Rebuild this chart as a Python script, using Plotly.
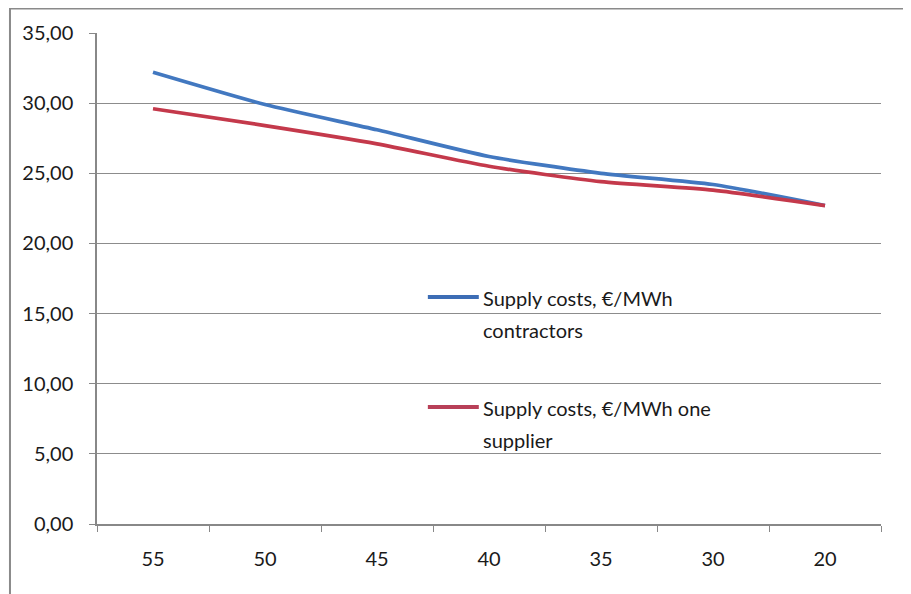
import plotly.graph_objects as go

categories = ["55", "50", "45", "40", "35", "30", "20"]
contractors = [32.2, 29.9, 28.1, 26.2, 25.0, 24.2, 22.7]
one_supplier = [29.6, 28.4, 27.1, 25.5, 24.4, 23.8, 22.7]
y_ticks = [0, 5, 10, 15, 20, 25, 30, 35]
legend_lines_1 = ["Supply costs, €/MWh", "contractors"]
legend_lines_2 = ["Supply costs, €/MWh one", "supplier"]

FONT = "Lato"
BLUE = "#4278c0"
RED = "#c4394b"

fig = go.Figure()
fig.add_trace(go.Scatter(
    x=categories, y=contractors, mode="lines", name=" ".join(legend_lines_1),
    line=dict(color=BLUE, width=3.7, shape="spline", smoothing=0.6),
))
fig.add_trace(go.Scatter(
    x=categories, y=one_supplier, mode="lines", name=" ".join(legend_lines_2),
    line=dict(color=RED, width=3.7, shape="spline", smoothing=0.6),
))

# manual legend (text lines + line samples), paper coordinates
annotations = []
text_x = 0.490
for lines, ys in ((legend_lines_1, (0.4603, 0.395)), (legend_lines_2, (0.2363, 0.171))):
    for t, yy in zip(lines, ys):
        annotations.append(dict(
            text=t, x=text_x, y=yy, xref="paper", yref="paper",
            xanchor="left", yanchor="middle", showarrow=False,
            font=dict(family=FONT, size=20, color="#1a1a1a"),
        ))

shapes = [
    dict(type="line", xref="paper", yref="paper", x0=0.422, x1=0.487,
         y0=0.4623, y1=0.4623, line=dict(color="#3d6db5", width=4)),
    dict(type="line", xref="paper", yref="paper", x0=0.422, x1=0.487,
         y0=0.2383, y1=0.2383, line=dict(color="#b84058", width=4)),
    dict(type="rect", xref="paper", yref="paper",
         x0=-0.111, x1=1.08, y0=-0.2, y1=1.0497,
         line=dict(color="#8a8a8a", width=2), fillcolor="rgba(0,0,0,0)"),
]

fig.update_layout(
    width=911, height=594,
    margin=dict(l=89, r=38, t=25, b=78),
    paper_bgcolor="white", plot_bgcolor="white",
    separators=",.",
    font=dict(family=FONT, size=20, color="#1a1a1a"),
    showlegend=False,
    annotations=annotations,
    shapes=shapes,
    xaxis=dict(
        type="category", tickson="boundaries", ticks="outside", ticklen=6,
        tickcolor="#888", showline=True, linecolor="#888", linewidth=1.5,
        showgrid=False, ticklabelstandoff=16, range=[-0.5, 6.5],
    ),
    yaxis=dict(
        range=[0, 35], tickvals=y_ticks, tickformat=".2f",
        ticks="outside", ticklen=6, tickcolor="#888",
        showline=True, linecolor="#888", linewidth=1.5,
        showgrid=True, gridcolor="#8c8c8c", gridwidth=1.2,
        zeroline=False, ticklabelstandoff=12,
    ),
)

fig.write_html("out.html")
